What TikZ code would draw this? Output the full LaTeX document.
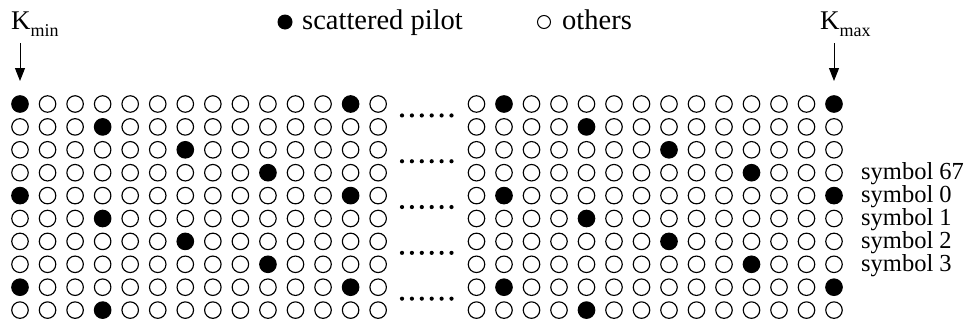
\documentclass[tikz,border=0pt]{standalone}
\usepackage{fontspec}
\setmainfont{Liberation Serif}
\usetikzlibrary{arrows.meta}
\begin{document}
\begin{tikzpicture}[x=1pt,y=-1pt,
  cell/.style={circle,draw=black,line width=1.15pt,minimum size=16.5pt,inner sep=0pt},
  legfill/.style={circle,fill=black,minimum size=15pt,inner sep=0pt},
  legopen/.style={circle,draw=black,line width=1pt,minimum size=13pt,inner sep=0pt},
  lbl/.style={font=\fontsize{24.5}{24.5}\selectfont,inner sep=0pt},
  leg/.style={font=\fontsize{28.5}{28.5}\selectfont,inner sep=0pt},
  kfont/.style={font=\fontsize{27}{27}\selectfont,inner sep=0pt},
  ptr/.style={line width=1pt,-{Triangle[length=13pt,width=10pt]}},
  ell/.style={fill=black}
]
\useasboundingbox (0,0) rectangle (967,327);
% grid
\foreach \r in {0,...,9}{
  \foreach \j in {0,...,13}{
    \pgfmathtruncatemacro\ml{mod(\j-3*\r+120,12)}
    \pgfmathtruncatemacro\mr{mod(\j-1-3*\r+120,12)}
    \ifnum\ml=0 \def\fl{black}\else\def\fl{white}\fi
    \ifnum\mr=0 \def\fr{black}\else\def\fr{white}\fi
    \node[cell,fill=\fl] (L-\r-\j) at ({20+27.55*\j},{104+22.9*\r}) {};
    \node[cell,fill=\fr] (R-\r-\j) at ({476.5+27.5*\j},{104+22.9*\r}) {};
  }
}
% ellipsis dots
\foreach \m in {0,...,4}{
  \foreach \k in {0,...,5}{
    \fill[ell] ({402+9.9*\k},{104+22.9*(2*\m+0.5)}) circle (2.1pt);
  }
}
% K labels and arrows
\node[kfont,anchor=base west] (kmin) at (11,29) {K\raisebox{-7pt}{\fontsize{18}{18}\selectfont min}};
\node[kfont,anchor=base west] (kmax) at (820,29) {K\raisebox{-7pt}{\fontsize{18}{18}\selectfont max}};
\coordinate (kminS) at (20,43);
\coordinate (kminE) at (20,81);
\coordinate (kmaxS) at (834,43);
\coordinate (kmaxE) at (834,81);
\draw[ptr] (kminS) -- (kminE);
\draw[ptr] (kmaxS) -- (kmaxE);
% legend
\node[legfill] (lp) at (285,22) {};
\node[leg,anchor=base west] (lpt) at (302,29) {scattered pilot};
\node[legopen] (lo) at (544,22) {};
\node[leg,anchor=base west] (lot) at (562,29) {others};
% symbol labels
\node[lbl,anchor=base west] (s67) at (861,{104+22.9*3+7}) {symbol 67};
\node[lbl,anchor=base west] (s0) at (861,{104+22.9*4+7}) {symbol 0};
\node[lbl,anchor=base west] (s1) at (861,{104+22.9*5+7}) {symbol 1};
\node[lbl,anchor=base west] (s2) at (861,{104+22.9*6+7}) {symbol 2};
\node[lbl,anchor=base west] (s3) at (861,{104+22.9*7+7}) {symbol 3};
\end{tikzpicture}
\end{document}
